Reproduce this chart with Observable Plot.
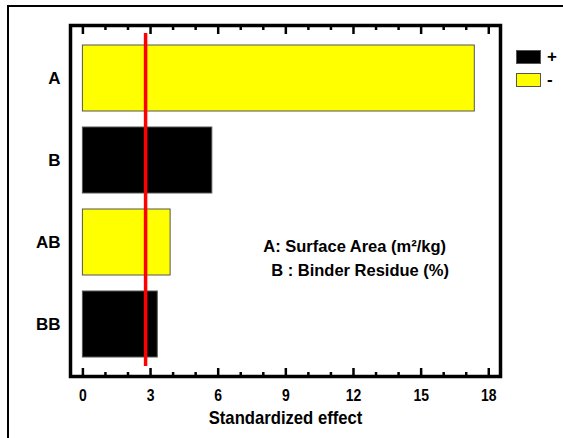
<!DOCTYPE html>
<html>
<head>
<meta charset="utf-8">
<script src="https://cdn.jsdelivr.net/npm/d3@7"></script>
<script src="https://cdn.jsdelivr.net/npm/@observablehq/plot@0.6"></script>
<style>
  html, body { margin: 0; padding: 0; background: #fff; }
  #wrap { position: relative; width: 563px; height: 438px; overflow: hidden; }
  #outer { position: absolute; left: 7px; top: 5px; width: 600px; height: 500px;
           border-top: 2px solid #000; border-left: 2px solid #000; }
  #chart { position: absolute; left: 0; top: 0; }
  .legend { position: absolute; left: 516px; font: bold 17px "Liberation Sans", Arial, sans-serif; }
  .legend .sw { position: absolute; left: 0; width: 23px; height: 12px; border: 1px solid #555; }
  .legend .lb { position: absolute; left: 31px; line-height: 14px; }
</style>
</head>
<body>
<div id="wrap">
  <div id="outer"></div>
  <div id="chart"></div>
  <div id="legend"></div>
</div>
<script>
// ---- data ----
const factors = ["A", "B", "AB", "BB"];
const effects = [17.38, 5.74, 3.89, 3.32];
const signs = ["-", "+", "-", "+"];
const signLabels = ["+", "-"];
const signColors = ["#000000", "#ffff00"];
const tCritical = 2.78;
const majorTicks = [0, 3, 6, 9, 12, 15, 18];
const minorTicks = [1, 2, 4, 5, 7, 8, 10, 11, 13, 14, 16, 17];
const notes = ["A: Surface Area (m²/kg)", "B : Binder Residue (%)"];

const rows = factors.map((f, i) => ({factor: f, effect: effects[i], sign: signs[i]}));

const font = '"Liberation Sans", Arial, sans-serif';
const blank = () => "";

const chart = Plot.plot({
  width: 563,
  height: 438,
  marginLeft: 70,
  marginRight: 63,
  marginTop: 25,
  marginBottom: 62,
  style: {background: "transparent", fontFamily: font, fontWeight: "bold", fontSize: "17px", color: "#000"},
  x: {domain: [-0.55, 18.52]},
  y: {domain: factors, paddingInner: 0.2, paddingOuter: 0.225},
  color: {domain: signLabels, range: signColors},
  marks: [
    Plot.barX(rows, {y: "factor", x: "effect", fill: "sign", stroke: "#555", strokeWidth: 1}),
    Plot.ruleX([tCritical], {stroke: "#ff0000", strokeWidth: 3.5, insetTop: 8, insetBottom: 10}),
    Plot.axisX(majorTicks, {anchor: "bottom", tickSize: -8, strokeWidth: 2.5, tickFormat: blank, label: null}),
    Plot.axisX(minorTicks, {anchor: "bottom", tickSize: -4, strokeWidth: 2.5, tickFormat: blank, label: null}),
    Plot.axisX(majorTicks, {anchor: "top", tickSize: -8, strokeWidth: 2.5, tickFormat: blank, label: null}),
    Plot.axisX(minorTicks, {anchor: "top", tickSize: -4, strokeWidth: 2.5, tickFormat: blank, label: null}),
    Plot.axisX(majorTicks, {anchor: "bottom", tickSize: 0, tickPadding: 12, fontSize: 17,
      label: "Standardized effect", labelAnchor: "center", labelArrow: "none", labelOffset: 47}),
    Plot.axisY({anchor: "left", tickSize: 0, tickPadding: 10, fontSize: 17, label: null}),
    Plot.frame({stroke: "#000", strokeWidth: 3.5}),
    Plot.text([notes[0]], {x: 8.0, y: () => "AB", dy: 4, text: d => d, textAnchor: "start", fontSize: 16.5}),
    Plot.text([notes[1]], {x: 8.35, y: () => "AB", dy: 28, text: d => d, textAnchor: "start", fontSize: 16.5})
  ]
});
document.getElementById("chart").appendChild(chart);

// narrow (condensed) lettering for axis numbers and axis title, as in the reference
function narrow(selector, factor, size) {
  chart.querySelectorAll(selector).forEach(t => {
    if (size) t.style.fontSize = size;
    const len = t.getComputedTextLength();
    if (len > 0) {
      t.setAttribute("textLength", (len * factor).toFixed(2));
      t.setAttribute("lengthAdjust", "spacingAndGlyphs");
    }
  });
}
narrow('g[aria-label="x-axis tick label"] text', 0.82);
narrow('g[aria-label="x-axis label"] text', 0.9, "18.5px");

// legend
const lg = document.getElementById("legend");
signLabels.forEach((s, i) => {
  const item = document.createElement("div");
  item.className = "legend";
  item.style.top = (50 + i * 22.7) + "px";
  item.innerHTML = `<div class="sw" style="background:${signColors[i]}"></div><div class="lb">${s}</div>`;
  lg.appendChild(item);
});
</script>
</body>
</html>
